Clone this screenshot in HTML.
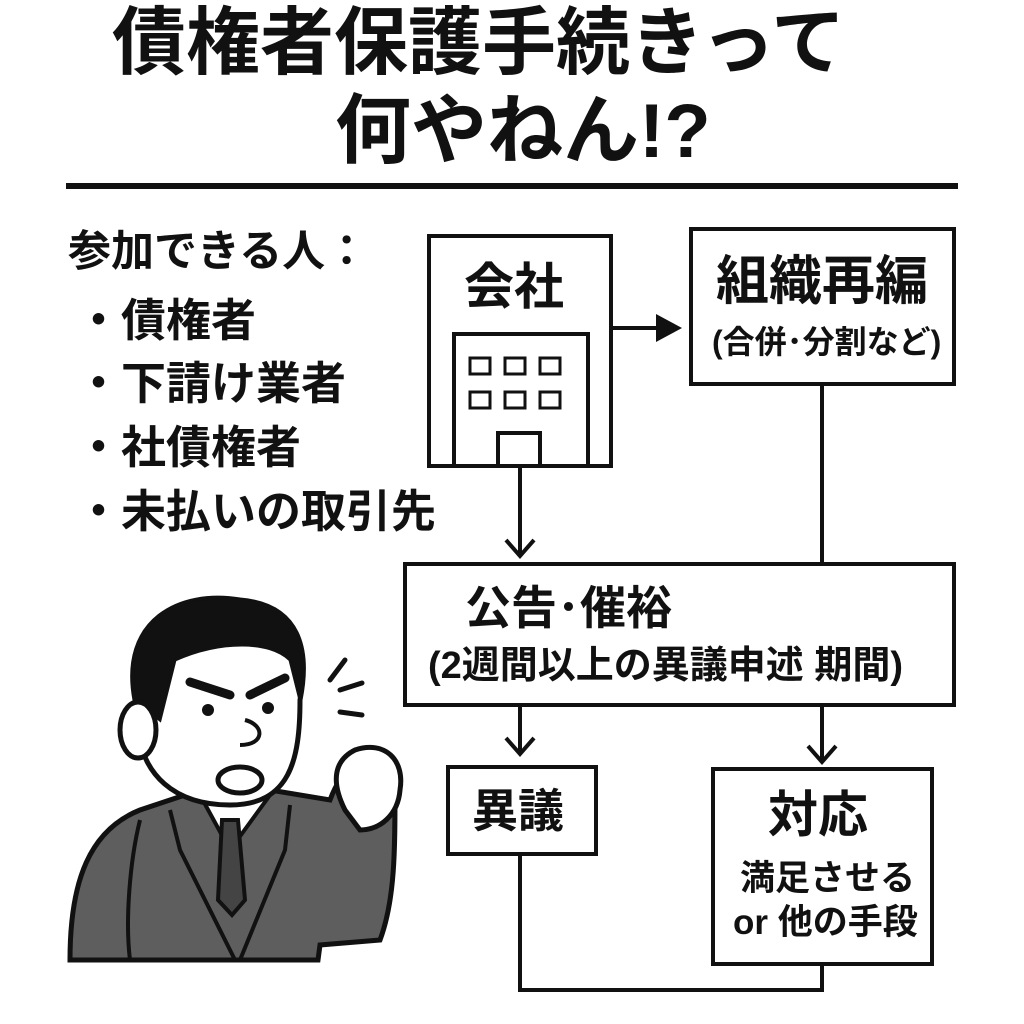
<!DOCTYPE html>
<html><head><meta charset="utf-8"><style>
html,body{margin:0;padding:0;background:#fff;}
body{width:1024px;height:1024px;position:relative;overflow:hidden;font-family:"Liberation Sans","Noto Sans CJK JP",sans-serif;font-weight:bold;color:#111;}
.t{position:absolute;white-space:nowrap;line-height:1;}
.b{position:absolute;border:4px solid #111;box-sizing:border-box;}
</style></head><body>
<div class="t" style="left:112px;top:6px;font-size:74px;">債権者保護手続きって</div>
<div class="t" style="left:335px;top:94px;font-size:76px;">何やねん!?</div>
<div style="position:absolute;left:66px;top:183px;width:892px;height:6px;background:#111;"></div>

<div class="t" style="left:68px;top:231px;font-size:43px;">参加できる人：</div>
<div class="t" style="left:76px;top:298px;font-size:45px;">・債権者</div>
<div class="t" style="left:76px;top:361px;font-size:45px;">・下請け業者</div>
<div class="t" style="left:76px;top:425px;font-size:45px;">・社債権者</div>
<div class="t" style="left:76px;top:489px;font-size:45px;">・未払いの取引先</div>

<div class="b" style="left:427px;top:234px;width:186px;height:234px;"></div>
<div class="t" style="left:464px;top:262px;font-size:50px;">会社</div>
<div class="b" style="left:689px;top:227px;width:267px;height:159px;"></div>
<div class="t" style="left:716px;top:255px;font-size:53px;">組織再編</div>
<div class="t" style="left:712px;top:326px;font-size:32px;">(合併･分割など)</div>
<div class="b" style="left:403px;top:562px;width:553px;height:145px;"></div>
<div class="t" style="left:465px;top:585px;font-size:46px;">公告･催裕</div>
<div class="t" style="left:428px;top:647px;font-size:38px;">(2週間以上の異議申述 期間)</div>
<div class="b" style="left:446px;top:765px;width:152px;height:91px;"></div>
<div class="t" style="left:472px;top:788px;font-size:46px;">異議</div>
<div class="b" style="left:711px;top:767px;width:223px;height:199px;"></div>
<div class="t" style="left:768px;top:790px;font-size:50px;">対応</div>
<div class="t" style="left:740px;top:861px;font-size:35px;">満足させる</div>
<div class="t" style="left:733px;top:905px;font-size:35px;">or 他の手段</div>

<svg width="1024" height="1024" style="position:absolute;left:0;top:0" fill="none" stroke="#111" stroke-width="4">
<rect x="454" y="334" width="134" height="132"/>
<rect x="470" y="358" width="20" height="16" stroke-width="3"/><rect x="505" y="358" width="20" height="16" stroke-width="3"/><rect x="540" y="358" width="20" height="16" stroke-width="3"/>
<rect x="470" y="392" width="20" height="16" stroke-width="3"/><rect x="505" y="392" width="20" height="16" stroke-width="3"/><rect x="540" y="392" width="20" height="16" stroke-width="3"/>
<rect x="498" y="433" width="42" height="33"/>
<line x1="613" y1="328" x2="660" y2="328"/><polygon points="656,314 682,328 656,342" fill="#111" stroke="none"/>
<line x1="822" y1="386" x2="822" y2="562"/>
<line x1="520" y1="466" x2="520" y2="554"/><polyline points="506,540 520,556 534,540" stroke-width="4"/>
<line x1="520" y1="707" x2="520" y2="752"/><polyline points="506,738 520,754 534,738"/>
<line x1="822" y1="707" x2="822" y2="760"/><polyline points="808,746 822,762 836,746"/>
<polyline points="520,856 520,990 822,990 822,966"/>
<path d="M70,960 C70,880 90,830 140,810 L200,790 L270,790 L330,800 C345,760 360,770 360,770 L395,790 C395,850 395,900 380,940 L320,945 L318,960 Z" fill="#5e5e5e" stroke="#111" stroke-width="5"/>
<path d="M345,810 C330,780 335,760 355,750 C385,740 405,760 400,790 C398,815 380,830 360,830 Z" fill="#fff" stroke-width="5"/>
<path d="M200,795 L230,850 L270,795 Z" fill="#fff" stroke-width="4"/>
<path d="M222,820 L238,820 L245,900 L232,915 L218,900 Z" fill="#444" stroke-width="4"/>
<path d="M170,810 L180,850 L235,960" stroke-width="4"/><path d="M290,805 L285,850 L240,960" stroke-width="4"/>
<path d="M140,820 C130,860 125,920 130,960" stroke-width="4"/>
<path d="M135,700 C120,620 180,590 240,600 C300,605 310,650 300,700 C300,760 290,805 230,805 C170,805 145,770 140,740 Z" fill="#fff" stroke-width="5"/>
<path d="M135,700 C120,620 180,590 240,600 C300,605 310,660 300,700 L290,660 C270,640 220,640 175,660 L160,720 Z" fill="#111" stroke-width="3"/>
<ellipse cx="138" cy="730" rx="18" ry="28" fill="#fff" stroke-width="5"/>
<path d="M190,682 L230,695 M250,695 L285,678" stroke-width="9" stroke-linecap="round"/>
<circle cx="208" cy="710" r="6" fill="#111" stroke="none"/><circle cx="268" cy="708" r="6" fill="#111" stroke="none"/>
<path d="M245,720 C265,725 265,745 240,745"/>
<ellipse cx="240" cy="780" rx="22" ry="13" fill="#fff" stroke-width="5"/>
<path d="M330,680 L345,660 M340,690 L362,683 M340,712 L362,715" stroke-width="5" stroke-linecap="round"/>
</svg>
</body></html>
